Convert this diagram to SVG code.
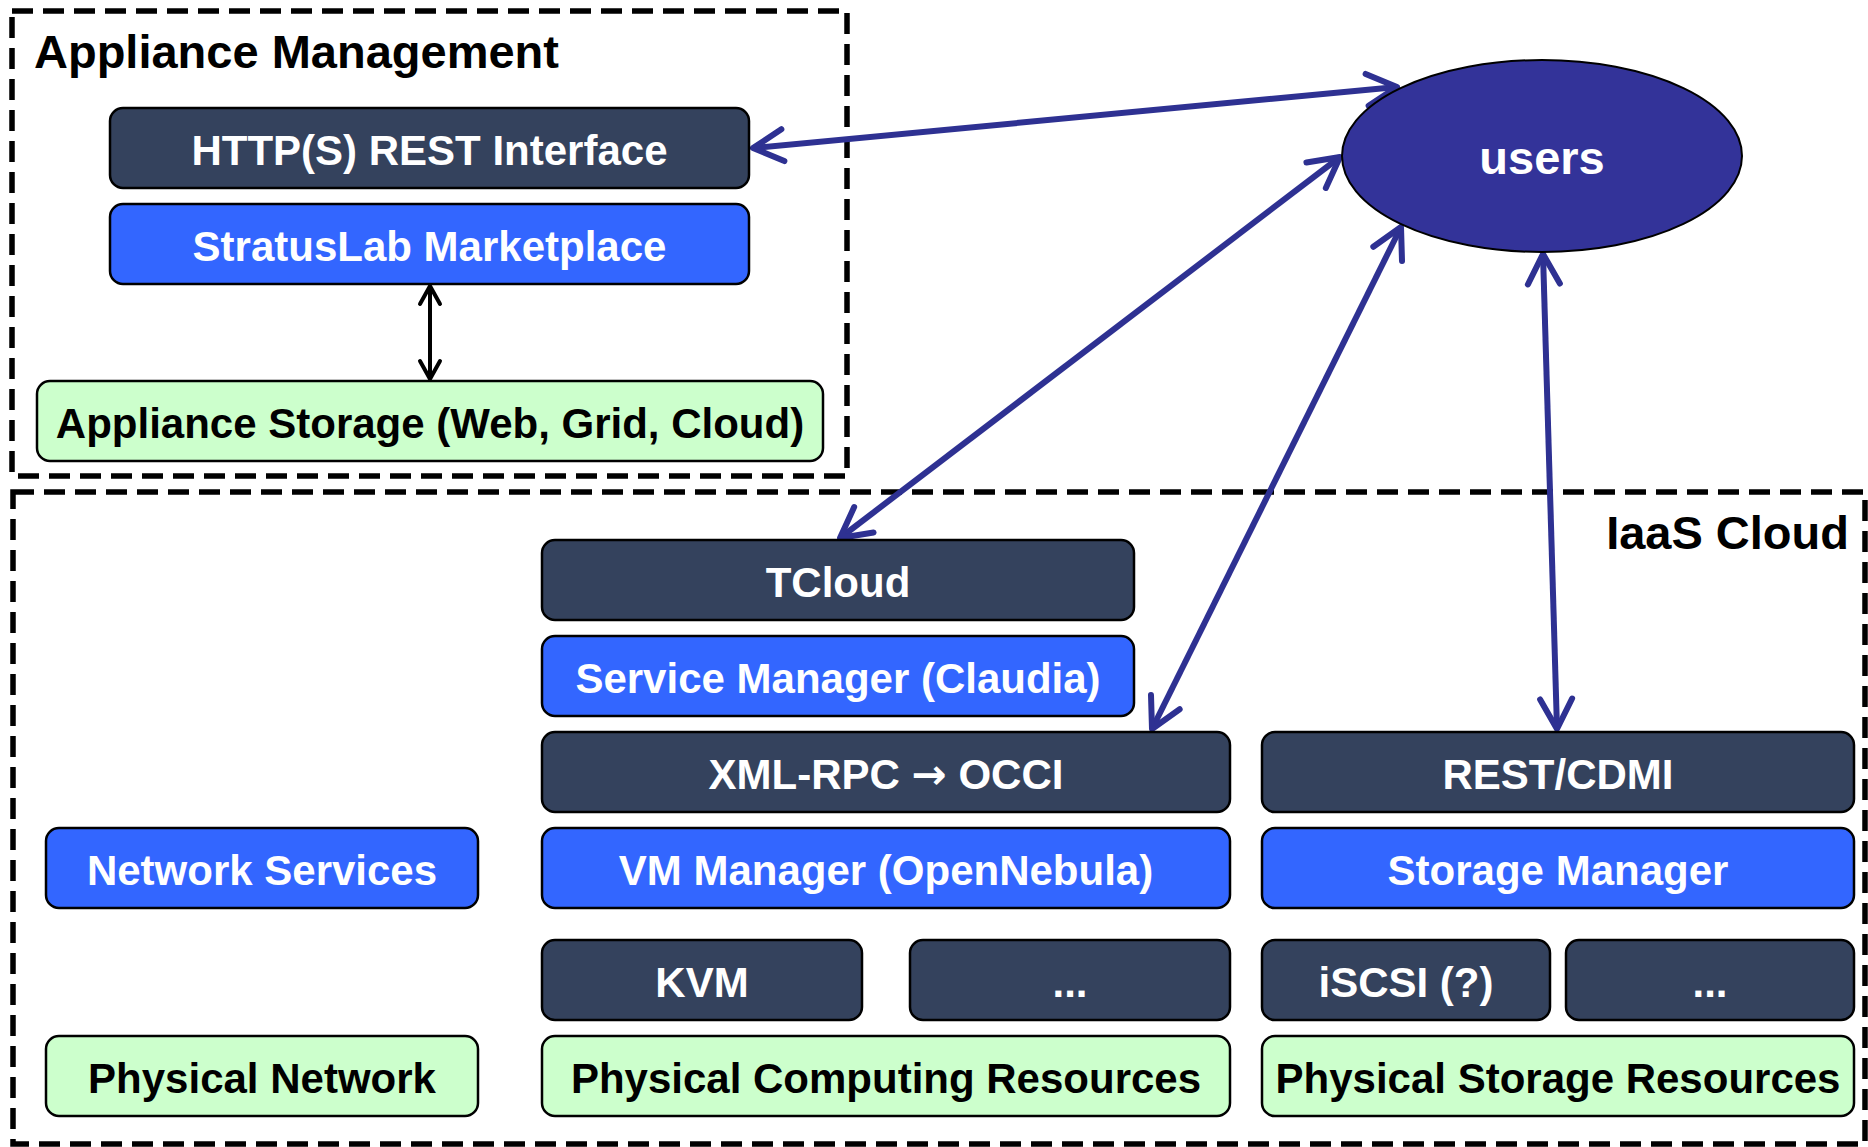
<svg xmlns="http://www.w3.org/2000/svg" width="1868" height="1147" viewBox="0 0 1868 1147">
<style>
.box{stroke:#000;stroke-width:2.5}
.dark{fill:#34425D}
.blue{fill:#3366FF}
.green{fill:#CCFFCC}
.t{font-family:"Liberation Sans",Arial,sans-serif;font-weight:bold;font-size:42px;text-anchor:middle}
.w{fill:#fff}
.k{fill:#000}
.cont{fill:none;stroke:#000;stroke-width:5.5;stroke-dasharray:21 10}
.title{font-family:"Liberation Sans",Arial,sans-serif;font-weight:bold;font-size:47px;fill:#000}
.conn{fill:none;stroke:#2E3192;stroke-width:6}
.connk{fill:none;stroke:#000;stroke-width:4}
</style>
<defs>
<marker id="ah" markerUnits="userSpaceOnUse" viewBox="-40 -25 50 50" refX="0" refY="0" markerWidth="50" markerHeight="50" orient="auto-start-reverse" overflow="visible">
<path d="M -30 -16 L 0 0 L -30 16" fill="none" stroke="#2E3192" stroke-width="6" stroke-linecap="round" stroke-linejoin="round"/>
</marker>
<marker id="ahk" markerUnits="userSpaceOnUse" viewBox="-30 -20 40 40" refX="0" refY="0" markerWidth="40" markerHeight="40" orient="auto-start-reverse" overflow="visible">
<path d="M -18 -10 L 0 0 L -18 10" fill="none" stroke="#000" stroke-width="4" stroke-linecap="round" stroke-linejoin="round"/>
</marker>
</defs>
<rect width="1868" height="1147" fill="#fff"/>
<g id="appliance-management">
<rect class="cont" x="12" y="11" width="835" height="465"/>
<text class="title" x="34" y="68">Appliance Management</text>
</g>
<g id="iaas-cloud">
<rect class="cont" x="13" y="492" width="1852" height="652"/>
<text class="title" x="1849" y="549" text-anchor="end">IaaS Cloud</text>
</g>
<g id="connectors">
<line class="conn" x1="753" y1="148" x2="1397" y2="87" marker-start="url(#ah)" marker-end="url(#ah)"/>
<line class="conn" x1="840" y1="538" x2="1340" y2="157" marker-start="url(#ah)" marker-end="url(#ah)"/>
<line class="conn" x1="1152" y1="729" x2="1401" y2="227" marker-start="url(#ah)" marker-end="url(#ah)"/>
<line class="conn" x1="1557" y1="729" x2="1543" y2="254" marker-start="url(#ah)" marker-end="url(#ah)"/>
<line class="connk" x1="430" y1="286" x2="430" y2="379" marker-start="url(#ahk)" marker-end="url(#ahk)"/>
</g>
<g id="users">
<ellipse cx="1542" cy="156" rx="200" ry="96" fill="#333399" stroke="#000" stroke-width="2"/>
<text class="t w" x="1542" y="174" style="font-size:47px">users</text>
</g>
<g id="http-rest"><rect class="box dark" x="110" y="108" width="639" height="80" rx="13"/><text class="t w" x="429.5" y="165">HTTP(S) REST Interface</text></g>
<g id="marketplace"><rect class="box blue" x="110" y="204" width="639" height="80" rx="13"/><text class="t w" x="429.5" y="261">StratusLab Marketplace</text></g>
<g id="appliance-storage"><rect class="box green" x="37" y="381" width="786" height="80" rx="13"/><text class="t k" x="430" y="438">Appliance Storage (Web, Grid, Cloud)</text></g>
<g id="tcloud"><rect class="box dark" x="542" y="540" width="592" height="80" rx="13"/><text class="t w" x="838" y="597">TCloud</text></g>
<g id="service-manager"><rect class="box blue" x="542" y="636" width="592" height="80" rx="13"/><text class="t w" x="838" y="693">Service Manager (Claudia)</text></g>
<g id="xml-rpc"><rect class="box dark" x="542" y="732" width="688" height="80" rx="13"/><text class="t w" x="886" y="789">XML-RPC <tspan style="font-family:'DejaVu Sans',sans-serif">→</tspan> OCCI</text></g>
<g id="vm-manager"><rect class="box blue" x="542" y="828" width="688" height="80" rx="13"/><text class="t w" x="886" y="885">VM Manager (OpenNebula)</text></g>
<g id="kvm"><rect class="box dark" x="542" y="940" width="320" height="80" rx="13"/><text class="t w" x="702" y="997">KVM</text></g>
<g id="hv-more"><rect class="box dark" x="910" y="940" width="320" height="80" rx="13"/><text class="t w" x="1070" y="997">...</text></g>
<g id="physical-computing"><rect class="box green" x="542" y="1036" width="688" height="80" rx="13"/><text class="t k" x="886" y="1093">Physical Computing Resources</text></g>
<g id="network-services"><rect class="box blue" x="46" y="828" width="432" height="80" rx="13"/><text class="t w" x="262" y="885">Network Services</text></g>
<g id="physical-network"><rect class="box green" x="46" y="1036" width="432" height="80" rx="13"/><text class="t k" x="262" y="1093">Physical Network</text></g>
<g id="rest-cdmi"><rect class="box dark" x="1262" y="732" width="592" height="80" rx="13"/><text class="t w" x="1558" y="789">REST/CDMI</text></g>
<g id="storage-manager"><rect class="box blue" x="1262" y="828" width="592" height="80" rx="13"/><text class="t w" x="1558" y="885">Storage Manager</text></g>
<g id="iscsi"><rect class="box dark" x="1262" y="940" width="288" height="80" rx="13"/><text class="t w" x="1406" y="997">iSCSI (?)</text></g>
<g id="storage-more"><rect class="box dark" x="1566" y="940" width="288" height="80" rx="13"/><text class="t w" x="1710" y="997">...</text></g>
<g id="physical-storage"><rect class="box green" x="1262" y="1036" width="592" height="80" rx="13"/><text class="t k" x="1558" y="1093">Physical Storage Resources</text></g>
</svg>
